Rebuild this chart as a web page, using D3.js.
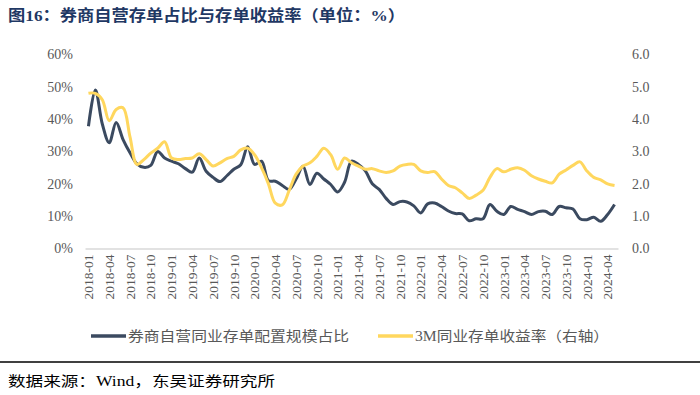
<!DOCTYPE html>
<html><head><meta charset="utf-8">
<script src="https://cdn.jsdelivr.net/npm/d3@7"></script>
<style>
html,body{margin:0;padding:0;background:#fff;}
svg{display:block;}
</style></head>
<body>
<svg id="chart" width="700" height="395"></svg>
<script>
// ---- data ----
const startYear = 2018, startMonth = 1, monthCount = 77; // 2018-01 .. 2024-05
const months = [];
for (let k = 0; k < monthCount; k++) {
  const m = startMonth - 1 + k;
  const y = startYear + Math.floor(m / 12), mm = (m % 12) + 1;
  months.push(y + "-" + (mm < 10 ? "0" + mm : mm));
}
const tickLabels = ["2018-01","2018-04","2018-07","2018-10","2019-01","2019-04","2019-07","2019-10",
  "2020-01","2020-04","2020-07","2020-10","2021-01","2021-04","2021-07","2021-10",
  "2022-01","2022-04","2022-07","2022-10","2023-01","2023-04","2023-07","2023-10","2024-01","2024-04"];
const leftTicks = [0,10,20,30,40,50,60];
const rightTicks = [0,1,2,3,4,5,6];

// 券商自营同业存单配置规模占比 (%)
const shareValues = [37.8,49,38.5,32.7,39,33.7,29.6,26.2,25.1,25.7,30,28,27,26.2,24.7,23.6,28,23.9,22,20.7,
  22.5,24.5,25.9,31.5,26,27,21,20.8,19.5,18.3,21.5,25.4,19.8,23.3,21.5,19.8,17.5,20.5,27,26,
  24,20,18.3,15.5,13.6,14.5,14.4,13.2,11,13.8,14.1,13,11.6,10.8,10.7,8.6,9.2,9.2,13.6,11.5,
  10.5,13,12.1,11.4,10.5,11.4,11.5,10.5,13,12.6,12.2,9.2,8.9,9.7,8.4,10.5,13.6];
// 3M同业存单收益率 (%, 右轴)
const yieldValues = [4.8,4.8,4.6,3.95,4.3,4.35,3.45,2.6,2.75,2.95,3.1,3.3,2.8,2.75,2.78,2.8,2.93,2.75,2.55,2.65,
  2.78,2.85,3.05,3.1,2.9,2.5,2.0,1.4,1.35,1.8,2.3,2.55,2.65,2.85,3.1,2.9,2.45,2.8,2.65,2.55,
  2.45,2.47,2.4,2.35,2.4,2.55,2.6,2.6,2.4,2.35,2.38,2.15,1.95,1.88,1.72,1.55,1.65,1.8,2.2,2.47,
  2.37,2.45,2.5,2.42,2.25,2.15,2.08,2.03,2.3,2.43,2.57,2.68,2.4,2.2,2.12,2.0,1.95];

const seriesNames = ["券商自营同业存单配置规模占比", "3M同业存单收益率（右轴）"];
const titleText = "图16：券商自营存单占比与存单收益率（单位：%）";
const sourceText = "数据来源：Wind，东吴证券研究所";

// ---- drawing ----
const svg = d3.select("#chart");
const serif = "'Liberation Serif','Times New Roman','Noto Sans CJK SC',serif";
const darkC = "#3b4a60", yellowC = "#ffd75e";

const x = d3.scaleBand().domain(months).range([85, 618]).padding(0);
const yL = d3.scaleLinear().domain([0, 60]).range([248.5, 54.5]);
const yR = d3.scaleLinear().domain([0, 6]).range([248.5, 54.5]);
const cx = d => x(d) + x.bandwidth() / 2;

// title
svg.append("text").attr("x", 8).attr("y", 21)
  .attr("font-family", serif).attr("font-weight", "bold").attr("font-size", 15.5)
  .attr("fill", "#1f3864").attr("textLength", 397).attr("lengthAdjust", "spacingAndGlyphs")
  .text(titleText);

// left axis
const gL = svg.append("g").attr("transform", "translate(73,0)")
  .call(d3.axisLeft(yL).tickValues(leftTicks).tickSize(0).tickPadding(0).tickFormat(d => d + "%"));
gL.select(".domain").remove();
gL.selectAll("text").attr("font-family", serif).attr("font-size", 14).attr("fill", "#595959");

// right axis
const gR = svg.append("g").attr("transform", "translate(632,0)")
  .call(d3.axisRight(yR).tickValues(rightTicks).tickSize(0).tickPadding(0).tickFormat(d3.format(".1f")));
gR.select(".domain").remove();
gR.selectAll("text").attr("font-family", serif).attr("font-size", 14).attr("fill", "#595959");

// bottom axis
const gB = svg.append("g").attr("transform", "translate(0,248.5)")
  .call(d3.axisBottom(x).tickValues(tickLabels).tickSize(0).tickPadding(0));
gB.select(".domain").attr("stroke", "#d9d9d9").attr("stroke-width", 1.5);
gB.selectAll("text").attr("font-family", serif).attr("font-size", 13.5).attr("fill", "#595959")
  .attr("text-anchor", "end").attr("dy", "0.35em")
  .attr("transform", "translate(0,6) rotate(-90)").attr("x", 0).attr("y", 0);

// lines
const lineL = d3.line().x((d, i) => cx(months[i])).y(d => yL(d)).curve(d3.curveCatmullRom.alpha(0.5));
const lineR = d3.line().x((d, i) => cx(months[i])).y(d => yR(d)).curve(d3.curveCatmullRom.alpha(0.5));

svg.append("path").datum(shareValues).attr("d", lineL)
  .attr("fill", "none").attr("stroke", darkC).attr("stroke-width", 3).attr("stroke-linejoin", "round");
svg.append("path").datum(yieldValues).attr("d", lineR)
  .attr("fill", "none").attr("stroke", yellowC).attr("stroke-width", 3).attr("stroke-linejoin", "round");

// legend
const leg = [
  {name: seriesNames[0], color: darkC, x0: 91, x1: 126, tx: 128, tl: 221},
  {name: seriesNames[1], color: yellowC, x0: 378, x1: 413, tx: 415, tl: 194}
];
leg.forEach(l => {
  svg.append("line").attr("x1", l.x0).attr("x2", l.x1).attr("y1", 336).attr("y2", 336)
    .attr("stroke", l.color).attr("stroke-width", 3.5);
  svg.append("text").attr("x", l.tx).attr("y", 341).attr("font-family", serif).attr("font-size", 14)
    .attr("fill", "#595959").attr("textLength", l.tl).attr("lengthAdjust", "spacingAndGlyphs").text(l.name);
});

// bottom rule and source
svg.append("line").attr("x1", 0).attr("x2", 700).attr("y1", 362).attr("y2", 362)
  .attr("stroke", "#000").attr("stroke-width", 1.5);
svg.append("text").attr("x", 8).attr("y", 386).attr("font-family", serif).attr("font-size", 14)
  .attr("fill", "#000").attr("textLength", 267).attr("lengthAdjust", "spacingAndGlyphs").text(sourceText);
</script>
</body></html>
